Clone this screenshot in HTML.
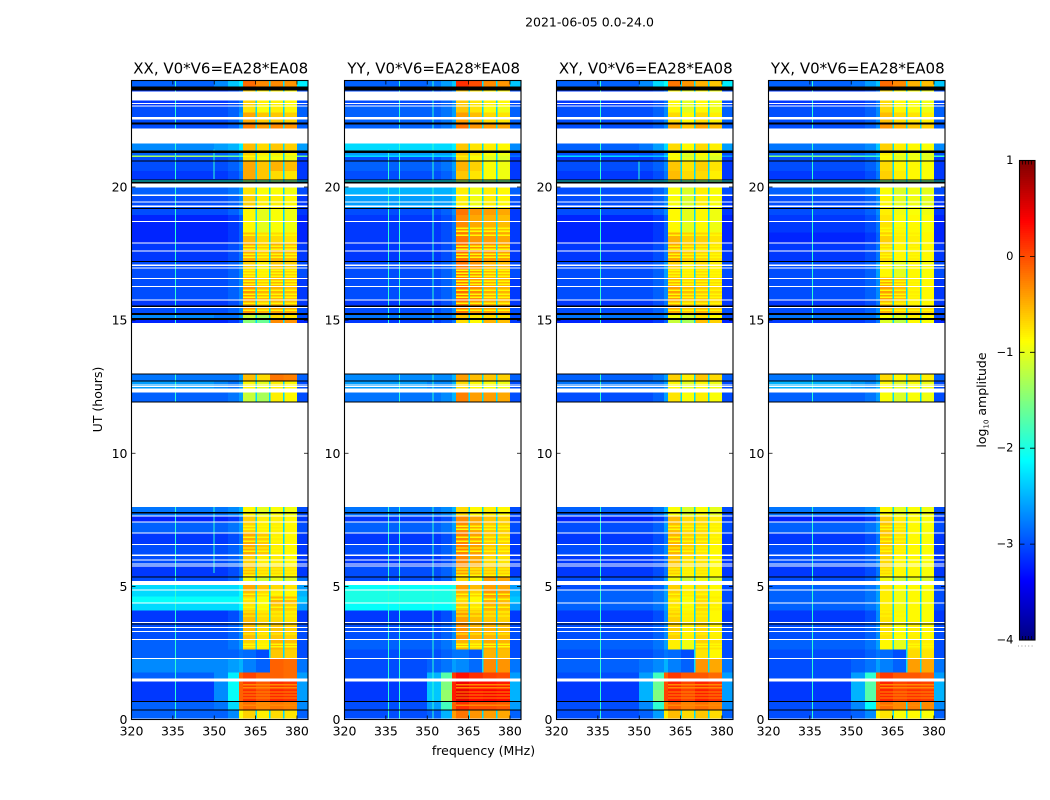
<!DOCTYPE html>
<html>
<head>
<meta charset="utf-8">
<title>2021-06-05 amplitude waterfall</title>
<style>
html,body{margin:0;padding:0;background:#fff;width:1050px;height:800px;overflow:hidden}
svg{display:block}
text{font-family:"DejaVu Sans","Liberation Sans",sans-serif;fill:#000}
</style>
</head>
<body>
<svg id="chart" xmlns="http://www.w3.org/2000/svg" width="1050" height="800" viewBox="0 0 1050 800"></svg>
<script>
const panelNames = ["XX, V0*V6=EA28*EA08","YY, V0*V6=EA28*EA08","XY, V0*V6=EA28*EA08","YX, V0*V6=EA28*EA08"];
const xTickLabels = [320,335,350,365,380];
const yTickLabels = [0,5,10,15,20];
const colorbarTicks = [-4,-3,-2,-1,0,1];
const freqEdges = [320,350,355,359,360.4,365.2,370.2,375.2,380,384];
const timeEdges = [24,23.78,23.05,22.8,22.43,21.9,21.38,21.18,21.12,20.97,20.6,20.29,20.21,19.69,19.2,18.95,18.3,17.9,17.2,16.6,16.27,15.75,15.52,15.26,15.08,14.9,12.71,12.44,11.9,7.64,7.41,7,6.57,6.17,5.76,5.35,5.05,4.86,4.62,4.37,4.1,3.64,3,2.62,2.29,1.77,1.54,1.1,.67,.36,0];
const flaggedWhite = [[23.59,23.25],[23.16,23.12],[23.07,23.03],[22.62,22.54],[22.2,21.64],[20.14,19.99],[19.71,19.67],[19.46,19.42],[19.31,19.24],[18.73,18.69],[17.91,17.87],[17.61,17.57],[17.08,17.04],[16.97,16.93],[16.59,16.55],[16.29,16.25],[15.77,15.73],[15.5,15.46],[14.9,13],[12.58,12.54],[12.52,12.48],[12.44,12.29],[11.9,7.98],[7.66,7.62],[7.43,7.39],[7.02,6.98],[6.59,6.55],[6.19,6.15],[6.01,5.97],[5.86,5.82],[5.78,5.74],[5.2,5.05],[4.88,4.84],[4.39,4.35],[3.66,3.62],[3.47,3.43],[3.32,3.28],[3.02,2.98],[2.31,2.27],[1.54,1.43],[.04,0]];
const flaggedBlack = [[23.78,23.63],[22.43,22.35],[21.38,21.27],[20.99,20.95],[20.29,20.25],[20.21,20.14],[19.22,19.18],[17.23,17.19],[15.54,15.5],[15.26,15.19],[15.08,15],[13,12.95],[12.73,12.69],[11.94,11.9],[7.79,7.73],[5.37,5.33],[3.6,3.56],[.69,.65],[.38,.34]];
const bandGapFreqs = [365.2,370.2,375.2];
const bandGapLevel = -2.3;
const rfiLevel = -1.9;
const stripeHours = [18.45,18.34,18.19,17.77,17.66,17.47,17.36,16.87,16.76,16.65,16.46,16.35,16.12,15.97,15.86,15.63,15.37,7.26,7.15,6.85,6.7,6.44,6.32,5.65,5.54,5.42,4.71,4.52,4.22,4.04,3.89,3.21,2.83,2.73];
const stripeLevel = -0.85;
const hotStripeHours = [1.3,1.19,1.03,.92,.81,.54];
const hotStripeLevel = -0.3;
const rfiXX = [[336,24,0],[350,21.4,20.3],[350,8,5.5]];
const rfiYY = [[336,8,0],[336,21.4,14.9],[340,24,0],[352,24,0]];
const rfiXY = [[336,24,0],[350,21,20]];
const rfiYX = [[336,24,0]];
const tiltXX = [.05,-.1,0,-.05];
const tiltYY = [.1,-.05,0,-.05];
const tiltXY = [.05,-.1,.05,-.05];
const tiltYX = [.05,-.1,0,-.05];
const valuesXX = [
[-2.9,-2.7,-2.4,-2.2,-.2,-.3,-2.2],[-3.1,-3.1,-3,-2.8,-.7,-.8,-3],[-3,-3,-2.9,-2.7,-.8,-.8,-2.9],[-3,-3,-2.9,-2.6,-.5,-.6,-2.9],[-3,-3,-2.9,-2.6,-.3,-.3,-2.9],
[-2.7,-2.6,-2.5,-2.2,-.6,-.6,-2.6],[-2.9,-2.9,-2.8,-2.5,-.7,-.8,-3],[-1.3,-1.5,-1.6,-1.8,-.9,-1,-1.6],[-3,-3,-2.9,-2.7,-.8,-.9,-3.1],[-3,-3,-2.9,-2.7,-.5,-.5,-3.1],
[-3.1,-3.1,-3,-2.8,-.5,-.7,-3.1],[-2.2,-2.2,-2.2,-2.2,-1.5,-1.5,-2.4],[-2.9,-2.9,-2.8,-2.6,-.8,-.9,-3],[-3,-3,-2.9,-2.7,-.7,-.8,-3.1],[-3,-3,-2.9,-2.7,-.9,-.9,-3.1],
[-3.2,-3.2,-3.1,-2.9,-.9,-.9,-3.2],[-3.2,-3.2,-3.1,-2.9,-.6,-.7,-3.2],[-3.1,-3.1,-3,-2.8,-.5,-.5,-3.1],[-3,-3,-2.9,-2.7,-.7,-.6,-3],[-3,-3,-2.9,-2.7,-.5,-.5,-3.1],
[-3,-3,-2.9,-2.7,-.4,-.5,-3.1],[-3.1,-3.1,-3,-2.8,-.5,-.5,-3.1],[-3,-3,-2.9,-2.7,-.4,-.4,-3],[-2.7,-2.8,-2.8,-2.6,-1.2,-.7,-3],[-3.2,-3.2,-3.1,-2.9,-1.5,-.3,-3.2],
[-2.8,-2.8,-2.8,-2.6,-.6,-.2,-2.9],[-2.6,-2.7,-2.8,-2.6,-.9,-.8,-3],[-2.9,-2.9,-2.8,-2.6,-1.2,-.8,-3],[-2.8,-2.8,-2.7,-2.5,-.9,-.9,-3],[-3.2,-3.2,-3.1,-2.8,-.7,-.8,-3.1],
[-2.9,-2.9,-2.8,-2.6,-.7,-.8,-3],[-3.1,-3.1,-3,-2.8,-.5,-.8,-3.1],[-3,-3,-2.9,-2.7,-.5,-.8,-3.1],[-3,-3,-2.9,-2.7,-.7,-.8,-3.1],[-3.1,-3.1,-3,-2.8,-.6,-.7,-3.1],
[-3,-3,-2.9,-2.6,-1,-1,-2.8],[-2.3,-2.3,-2.3,-2.1,-.5,-.7,-2.6],[-2.3,-2.3,-2.3,-2.1,-.6,-.8,-2.5],[-2.1,-2.1,-2.1,-2,-.8,-.5,-2.4],[-2.3,-2.3,-2.3,-2.1,-.8,-.6,-2.6],
[-3.1,-3.1,-3,-2.7,-.6,-.7,-3.1],[-3,-3,-2.9,-2.7,-.6,-.6,-3],[-2.9,-2.9,-2.8,-2.6,-.7,-.5,-3],[-2.9,-2.9,-2.9,-2.8,-2.9,-.6,-3],[-2.7,-2.7,-2.6,-2.5,-2.8,-.1,-2.8],
[-2.9,-2.7,-2.2,-.1,0,-.1,-2.6],[-3.1,-2.7,-2.1,-.1,.05,.15,-2.6],[-3.1,-2.7,-2.1,-.1,.1,.2,-2.6],[-2.9,-2.8,-2.3,-.3,-.2,-.2,-2.7],[-2.9,-2.9,-2.7,-.9,-.7,-.7,-2.9]];
const valuesYY = [
[-2.9,-2.8,-2.6,-2.4,.05,-.3,-2.4],[-3,-3,-2.9,-2.7,-.7,-.8,-3],[-2.9,-2.9,-2.8,-2.6,-.7,-.9,-2.9],[-2.9,-2.9,-2.8,-2.6,-.5,-.7,-2.9],[-2.9,-2.9,-2.8,-2.6,-.3,-.4,-2.9],
[-2.3,-2.3,-2.3,-2.2,-.7,-.8,-2.7],[-2.6,-2.6,-2.6,-2.4,-.7,-.9,-3],[-2.3,-2.3,-2.3,-2.2,-.9,-1,-2.8],[-3,-3,-2.9,-2.7,-.8,-1,-3.1],[-2.9,-2.9,-2.8,-2.6,-.6,-.9,-3.1],
[-3,-3,-2.9,-2.7,-.7,-.9,-3.1],[-2.2,-2.2,-2.2,-2.2,-1.4,-1.5,-2.4],[-2.5,-2.5,-2.5,-2.4,-.9,-.8,-2.9],[-2.6,-2.6,-2.6,-2.4,-.9,-.8,-3],[-3,-3,-2.9,-2.7,-.3,-.4,-3.1],
[-3.1,-3.1,-3,-2.8,-.4,-.5,-3.1],[-3.1,-3.1,-3,-2.8,-.3,-.4,-3.1],[-3.1,-3.1,-3,-2.8,-.25,-.35,-3.1],[-3,-3,-2.9,-2.7,-.3,-.5,-3],[-3,-3,-2.9,-2.7,-.3,-.45,-3.1],
[-3,-3,-2.9,-2.7,-.25,-.45,-3.1],[-3.1,-3.1,-3,-2.8,-.3,-.45,-3.1],[-3,-3,-2.9,-2.7,-.3,-.4,-3],[-2.8,-2.8,-2.8,-2.6,-.7,-.7,-3],[-3.1,-3.1,-3,-2.8,-.8,-.5,-3.1],
[-2.7,-2.7,-2.7,-2.5,-.5,-.6,-2.9],[-2.6,-2.7,-2.7,-2.5,-.8,-.9,-3],[-2.8,-2.8,-2.7,-2.5,-.35,-.4,-3],[-2.8,-2.8,-2.7,-2.5,-.8,-.8,-3],[-3.1,-3.1,-3,-2.7,-.4,-.6,-3.1],
[-2.9,-2.9,-2.8,-2.6,-.4,-.6,-3],[-3.1,-3.1,-3,-2.8,-.35,-.6,-3.1],[-3,-3,-2.9,-2.7,-.35,-.6,-3.1],[-3.1,-3.1,-3,-2.8,-.4,-.7,-3.1],[-3,-3,-2.9,-2.7,-.5,-.6,-3.1],
[-3,-3,-2.9,-2.6,-.8,-.4,-2.8],[-2.1,-2.1,-2.1,-2,-.5,-.4,-2.6],[-2,-2,-2,-1.9,-.6,-.35,-2.5],[-2,-2,-2,-1.9,-.8,-.5,-2.4],[-2.1,-2.1,-2.1,-2,-.7,-.5,-2.6],
[-3.1,-3.1,-3,-2.7,-.5,-.6,-3.1],[-3,-3,-2.9,-2.7,-.45,-.5,-3],[-2.9,-2.9,-2.8,-2.6,-.6,-.45,-3],[-3,-3,-2.9,-2.8,-2.9,-.5,-3],[-3,-2.9,-2.8,-2.6,-2.8,-.3,-2.8],
[-3,-2.5,-1.7,.1,.2,.05,-2.6],[-3.1,-2.4,-1.5,.2,.35,.3,-2.5],[-3.1,-2.4,-1.4,.25,.4,.4,-2.5],[-3,-2.6,-1.8,-.1,.05,0,-2.6],[-3,-2.9,-2.5,-.4,-.3,-.4,-2.9]];
const valuesXY = [
[-2.9,-2.7,-2.3,-2.1,-.25,-.55,-2.2],[-3.1,-3.1,-3,-2.8,-.9,-.9,-3],[-3,-3,-2.9,-2.7,-.9,-.9,-2.9],[-3,-3,-2.9,-2.7,-.75,-.75,-2.9],[-3,-3,-2.9,-2.7,-.5,-.5,-2.9],
[-2.9,-2.8,-2.6,-2.3,-.75,-.75,-2.6],[-3,-3,-2.9,-2.6,-.9,-.9,-3],[-2.3,-2.4,-2.4,-2.2,-1,-1,-2.6],[-3.1,-3.1,-3,-2.8,-.9,-1,-3.1],[-3,-3,-2.9,-2.7,-.65,-.7,-3.1],
[-3.1,-3.1,-3,-2.8,-.6,-.75,-3.1],[-2.3,-2.3,-2.3,-2.2,-1.5,-1.5,-2.4],[-3,-3,-2.9,-2.7,-.95,-.85,-3],[-3,-3,-2.9,-2.7,-.95,-.85,-3.1],[-3,-3,-2.9,-2.7,-.9,-.9,-3.1],
[-3.2,-3.2,-3.1,-2.9,-.9,-.9,-3.2],[-3.2,-3.2,-3.1,-2.9,-.55,-.7,-3.2],[-3.1,-3.1,-3,-2.8,-.5,-.7,-3.1],[-3,-3,-2.9,-2.6,-.7,-.75,-3],[-3,-3,-2.9,-2.7,-.55,-.65,-3.1],
[-3,-3,-2.9,-2.7,-.45,-.65,-3.1],[-3.1,-3.1,-3,-2.8,-.55,-.65,-3.1],[-3,-3,-2.9,-2.7,-.5,-.55,-3],[-2.8,-2.8,-2.8,-2.6,-1,-.8,-3],[-3.2,-3.2,-3.1,-2.9,-1.2,-.6,-3.2],
[-2.9,-2.9,-2.8,-2.6,-.7,-.65,-2.9],[-2.8,-2.8,-2.8,-2.6,-.9,-.9,-3],[-3,-3,-2.9,-2.6,-.8,-.85,-3],[-2.9,-2.9,-2.8,-2.5,-.95,-.95,-3],[-3.2,-3.2,-3.1,-2.8,-.6,-.75,-3.1],
[-3,-3,-2.9,-2.6,-.6,-.75,-3],[-3.1,-3.1,-3,-2.8,-.55,-.75,-3.1],[-3,-3,-2.9,-2.7,-.55,-.8,-3.1],[-3.1,-3.1,-3,-2.8,-.65,-.8,-3.1],[-3.1,-3.1,-3,-2.8,-.7,-.8,-3.1],
[-3,-3,-2.9,-2.6,-1,-1,-2.9],[-3,-3,-2.9,-2.6,-.7,-.8,-3],[-2.9,-2.9,-2.8,-2.6,-.7,-.8,-3],[-2.9,-2.9,-2.8,-2.6,-.8,-.75,-3],[-2.9,-2.9,-2.8,-2.6,-.8,-.75,-3],
[-3.1,-3.1,-3,-2.7,-.7,-.8,-3.1],[-3,-3,-2.9,-2.7,-.7,-.75,-3],[-2.9,-2.9,-2.8,-2.6,-.85,-.7,-3],[-3,-3,-2.9,-2.8,-2.9,-.8,-3],[-2.9,-2.8,-2.7,-2.5,-2.8,-.4,-2.8],
[-3,-2.6,-1.8,-.1,.05,-.1,-2.6],[-3.1,-2.5,-1.6,0,.15,.15,-2.6],[-3.1,-2.5,-1.5,.05,.15,.2,-2.6],[-3,-2.7,-1.9,-.3,-.15,-.2,-2.7],[-3,-2.9,-2.6,-.8,-.6,-.65,-2.9]];
const valuesYX = [
[-2.9,-2.8,-2.6,-2.4,-.2,-.5,-2.4],[-3.1,-3.1,-3,-2.8,-.75,-.9,-3],[-3,-3,-2.9,-2.7,-.75,-.9,-2.9],[-3,-3,-2.9,-2.7,-.6,-.75,-2.9],[-3,-3,-2.9,-2.7,-.4,-.6,-2.9],
[-2.8,-2.8,-2.7,-2.4,-.7,-.85,-2.7],[-2.9,-2.9,-2.8,-2.6,-.85,-.95,-3],[-1.5,-1.7,-1.8,-1.9,-.95,-1,-1.8],[-3,-3,-2.9,-2.7,-.9,-.95,-3.1],[-3,-3,-2.9,-2.7,-.75,-.85,-3.1],
[-3.1,-3.1,-3,-2.8,-.7,-.85,-3.1],[-2.3,-2.3,-2.3,-2.2,-1.5,-1.5,-2.4],[-2.9,-2.9,-2.8,-2.6,-.95,-.95,-3],[-3,-3,-2.9,-2.7,-.9,-.95,-3.1],[-3,-3,-2.9,-2.7,-.85,-.9,-3.1],
[-3.1,-3.1,-3,-2.8,-.8,-.85,-3.2],[-3.2,-3.2,-3.1,-2.9,-.7,-.8,-3.2],[-3.1,-3.1,-3,-2.8,-.75,-.8,-3.1],[-3,-3,-2.9,-2.6,-.9,-.85,-3],[-3,-3,-2.9,-2.7,-.5,-.8,-3.1],
[-3,-3,-2.9,-2.7,-.45,-.8,-3.1],[-3.1,-3.1,-3,-2.8,-.6,-.8,-3.1],[-3,-3,-2.9,-2.7,-.55,-.65,-3],[-2.8,-2.8,-2.8,-2.6,-.95,-.8,-3],[-3.1,-3.1,-3,-2.8,-1.1,-.85,-3.2],
[-2.8,-2.8,-2.8,-2.6,-.75,-.75,-2.9],[-2.5,-2.6,-2.7,-2.5,-.9,-.9,-3],[-2.9,-2.9,-2.8,-2.6,-.95,-.9,-3],[-2.8,-2.8,-2.7,-2.5,-.9,-.9,-3],[-3.2,-3.2,-3.1,-2.8,-.7,-.85,-3.1],
[-2.9,-2.9,-2.8,-2.6,-.65,-.85,-3],[-3.1,-3.1,-3,-2.8,-.65,-.85,-3.1],[-3,-3,-2.9,-2.7,-.7,-.85,-3.1],[-3,-3,-2.9,-2.7,-.75,-.85,-3.1],[-3.1,-3.1,-3,-2.8,-.75,-.85,-3.1],
[-3,-3,-2.9,-2.6,-1,-1,-2.9],[-2.9,-2.9,-2.8,-2.6,-.8,-.85,-3],[-2.9,-2.9,-2.8,-2.6,-.85,-.85,-3],[-2.9,-2.9,-2.8,-2.6,-.85,-.85,-3],[-2.9,-2.9,-2.8,-2.6,-.85,-.85,-3],
[-3.1,-3.1,-3,-2.7,-.8,-.85,-3.1],[-3,-3,-2.9,-2.7,-.8,-.8,-3],[-2.9,-2.9,-2.8,-2.6,-.9,-.75,-3],[-3,-3,-2.9,-2.8,-2.9,-.7,-3],[-3,-2.9,-2.8,-2.6,-2.8,-.4,-2.8],
[-3,-2.6,-1.9,-.1,.05,-.05,-2.6],[-3.1,-2.5,-1.7,-.05,.15,.1,-2.5],[-3.1,-2.5,-1.7,0,.15,.15,-2.5],[-3,-2.7,-2.1,-.3,-.2,-.25,-2.7],[-3,-2.9,-2.7,-.9,-.8,-.85,-2.9]];

const panelValues = [valuesXX,valuesYY,valuesXY,valuesYX];
const panelTilts = [tiltXX,tiltYY,tiltXY,tiltYX];
const panelRfi = [rfiXX,rfiYY,rfiXY,rfiYX];
const panelLefts = [131.5,344.5,556.5,768.5];
const panelWidth = 176.5, plotTop = 80.5, plotBottom = 719.5;
const svg = document.getElementById('chart');
const NS = 'http://www.w3.org/2000/svg';

function jet(v){
  const t = Math.min(1,Math.max(0,(v+4)/5));
  const c = k => Math.round(255*Math.min(1,Math.max(0,1.5-Math.abs(4*t-k))));
  return 'rgb('+c(3)+','+c(2)+','+c(1)+')';
}
function add(parent,tag,attrs,text){
  const el = document.createElementNS(NS,tag);
  for(const k in attrs) el.setAttribute(k,attrs[k]);
  if(text!==undefined) el.textContent = text;
  parent.appendChild(el);
  return el;
}
function yScale(h){ return plotBottom-(h/24)*(plotBottom-plotTop); }
function xScale(left,f){ return left+((f-320)/64)*panelWidth; }
function cellValue(row,colIdx,values,tilt){
  const r = values[row];
  if(colIdx<4) return r[colIdx];
  if(colIdx<6) return r[4]+tilt[colIdx-4];
  if(colIdx<8) return r[5]+tilt[colIdx-4];
  return r[6];
}
function rowAt(h){
  for(let i=0;i<timeEdges.length-1;i++){ if(h<=timeEdges[i] && h>=timeEdges[i+1]) return i; }
  return 0;
}

// figure title
const figTitle = add(svg,'text',{x:589.5,y:26.5,'text-anchor':'middle','font-size':'12.5'},'2021-06-05 0.0-24.0');



panelNames.forEach(function(name,p){
  const left = panelLefts[p], values = panelValues[p], tilt = panelTilts[p];
  const g = add(svg,'g',{});
  
  
  const cells = add(g,'g',{'shape-rendering':'crispEdges'});
  
  
  values.forEach(function(row,ri){
    const y0 = yScale(timeEdges[ri]), y1 = yScale(timeEdges[ri+1]);
    for(let c=0;c<freqEdges.length-1;c++){
      const x0 = xScale(left,freqEdges[c]), x1 = xScale(left,freqEdges[c+1]);
      const cell = add(cells,'rect',{x:x0,y:y0,width:x1-x0,height:y1-y0,fill:jet(cellValue(ri,c,values,tilt))});
      
      
    }
  });
  [[stripeHours,stripeLevel],[hotStripeHours,hotStripeLevel]].forEach(function(pair){
    pair[0].forEach(function(h){
      const row = values[rowAt(h)];
      [[4,360.4,370.2],[5,370.2,380]].forEach(function(seg){
        if(row[seg[0]]>pair[1]){
          const st = add(cells,'rect',{x:xScale(left,seg[1]),y:yScale(h+.025),width:xScale(left,seg[2])-xScale(left,seg[1]),height:yScale(h-.025)-yScale(h+.025),fill:jet(pair[1])});
          
          
        }
      });
    });
  });
  values.forEach(function(row,ri){
    const y0 = yScale(timeEdges[ri]), y1 = yScale(timeEdges[ri+1]);
    bandGapFreqs.forEach(function(f){
      const v = f<370.1 ? row[4] : row[5];
      if(v<-0.2 && v>-2){
        const gap = add(cells,'rect',{x:xScale(left,f)-0.7,y:y0,width:1.4,height:y1-y0,fill:jet(bandGapLevel)});
        
        
      }
    });
  });
  panelRfi[p].forEach(function(s){
    const line = add(cells,'rect',{x:xScale(left,s[0])-0.5,y:yScale(s[1]),width:1,height:yScale(s[2])-yScale(s[1]),fill:jet(rfiLevel)});
    
    
  });
  flaggedBlack.forEach(function(b){
    const band = add(cells,'rect',{x:left,y:yScale(b[0]),width:panelWidth,height:yScale(b[1])-yScale(b[0]),fill:'#000'});
    
    
  });
  flaggedWhite.forEach(function(b){
    const band = add(cells,'rect',{x:left,y:yScale(b[0]),width:panelWidth,height:yScale(b[1])-yScale(b[0]),fill:'#fff'});
    
    
  });
  const frame = add(g,'rect',{x:left,y:plotTop,width:panelWidth,height:plotBottom-plotTop,fill:'none',stroke:'#000','stroke-width':1.1});
  
  
  xTickLabels.forEach(function(t){
    const x = xScale(left,t);
    const tb = add(g,'path',{d:'M'+x+' '+plotBottom+'v-4M'+x+' '+plotTop+'v4',stroke:'#000','stroke-width':0.8,fill:'none'});
    
    
    const lb = add(g,'text',{x:x,y:plotBottom+16,'text-anchor':'middle','font-size':'12.5'},String(t));
    
    
  });
  yTickLabels.forEach(function(t){
    const y = yScale(t);
    const tb = add(g,'path',{d:'M'+left+' '+y+'h4M'+(left+panelWidth)+' '+y+'h-4',stroke:'#000','stroke-width':0.8,fill:'none'});
    
    
    const lb = add(g,'text',{x:left-4,y:y+4.5,'text-anchor':'end','font-size':'12.5'},String(t));
    
    
  });
  const title = add(g,'text',{x:left+panelWidth/2+1,y:plotTop-7,'text-anchor':'middle','font-size':'15'},name);
  
  
});

const yTitle = add(svg,'text',{x:102,y:399.5,'text-anchor':'middle','font-size':'12.5',transform:'rotate(-90 102 399.5)'},'UT (hours)');


const xTitle = add(svg,'text',{x:483.5,y:755,'text-anchor':'middle','font-size':'12.5'},'frequency (MHz)');



// colour bar
const cbX = 1019.5, cbW = 15.5, cbTop = 160.5, cbBottom = 640;
function cbScale(v){ return cbBottom-((v+4)/5)*(cbBottom-cbTop); }
const cb = add(svg,'g',{});


const cbSwatches = add(cb,'g',{'shape-rendering':'crispEdges'});
for(let i=0;i<240;i++){
  const v0 = -4+i*5/240, v1 = v0+5/240;
  const sw = add(cbSwatches,'rect',{x:cbX,y:cbScale(v1),width:cbW,height:cbScale(v0)-cbScale(v1)+0.5,fill:jet(v0+5/480)});
  
  
}
const cbFrame = add(cb,'rect',{x:cbX,y:cbTop,width:cbW,height:cbBottom-cbTop,fill:'none',stroke:'#000','stroke-width':1.1});


colorbarTicks.forEach(function(t){
  const y = cbScale(t);
  const tk = add(cb,'path',{d:'M'+cbX+' '+y+'h5M'+(cbX+cbW)+' '+y+'h-5',stroke:'#000','stroke-width':0.8,fill:'none'});
  
  
  const lb = add(cb,'text',{x:cbX-6,y:y+3.5,'text-anchor':'end','font-size':'11.5'},(t<0?'\u2212':'')+Math.abs(t));
  
  
});
const cbMinor = add(cb,'path',{d:'M1022.5 160.5v4M1025.5 160.5v4M1028.5 160.5v4M1031.5 160.5v4M1022.5 640v-4M1025.5 640v-4M1028.5 640v-4M1031.5 640v-4',stroke:'#000','stroke-width':0.7,fill:'none'});


const cbDots = add(cb,'path',{d:'M1018 646H1035',stroke:'#999','stroke-width':1,'stroke-dasharray':'1 2.4',fill:'none'});


const cbLabel = add(cb,'text',{x:986,y:400,'text-anchor':'middle','font-size':'12.5',transform:'rotate(-90 986 400)'});


add(cbLabel,'tspan',{},'log');
add(cbLabel,'tspan',{'font-size':'7',dy:'2.5'},'10');
add(cbLabel,'tspan',{dy:'-2.5'},' amplitude');
</script>
</body>
</html>
